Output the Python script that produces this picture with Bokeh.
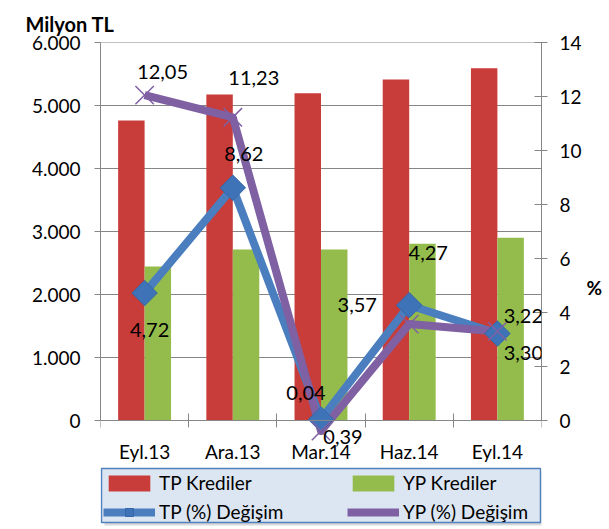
from bokeh.plotting import figure
from bokeh.models import (Range1d, LinearAxis, FixedTicker, Label, Legend, LegendItem,
                          ColumnDataSource, BoxAnnotation)
from bokeh.transform import dodge
from bokeh.embed import file_html
from bokeh.resources import INLINE

categories = ["Eyl.13", "Ara.13", "Mar.14", "Haz.14", "Eyl.14"]
tp_krediler = [4762, 5175, 5195, 5413, 5592]
yp_krediler = [2444, 2714, 2714, 2804, 2900]
tp_degisim = [4.72, 8.62, 0.04, 4.27, 3.22]
yp_degisim = [12.05, 11.23, -0.39, 3.57, 3.30]
tp_labels = ["4,72", "8,62", "0,04", "4,27", "3,22"]
yp_labels = ["12,05", "11,23", "0,39", "3,57", "3,30"]
left_ticks = [0, 1000, 2000, 3000, 4000, 5000, 6000]
left_tick_labels = ["0", "1.000", "2.000", "3.000", "4.000", "5.000", "6.000"]
right_ticks = [0, 2, 4, 6, 8, 10, 12, 14]

FONT = "Lato"
GREY = "#868686"
RED = "#C83C3A"
GREEN = "#94BC4C"
BLUE = "#4A7EBF"
PURPLE = "#7F60A3"

n = len(categories)
xc = [i + 0.5 for i in range(n)]
L_MAX = left_ticks[-1]
R_MAX = right_ticks[-1]

# ---- layout (page pixels) ----
AX_L, AX_R, AX_T, AX_B = 100, 541, 42, 420      # plot area of the axes
FR_B = 532                                       # frame extends down to hold the legend
px_x = (AX_R - AX_L) / n
px_l = (AX_B - AX_T) / L_MAX
px_r = (AX_B - AX_T) / R_MAX


def X(px):
    return (px - AX_L) / px_x


def YL(py):
    return (AX_B - py) / px_l


p = figure(frame_width=AX_R - AX_L, frame_height=FR_B - AX_T,
           x_range=Range1d(0, n), y_range=Range1d(YL(FR_B), L_MAX),
           output_backend="svg", toolbar_location=None,
           min_border_left=AX_L, min_border_right=68, min_border_top=AX_T, min_border_bottom=0)
p.extra_y_ranges = {"pct": Range1d(-(FR_B - AX_B) / px_r, R_MAX)}
p.outline_line_color = None
p.background_fill_color = "white"
p.border_fill_color = "white"

# "Milyon TL" unit title above the left axis
p.title.text = "Milyon TL"
p.title.align = "left"
p.title.offset = 25 - AX_L
p.title.text_font = FONT
p.title.text_font_style = "bold"
p.title.text_font_size = "20px"
p.title.text_color = "black"
p.title.standoff = 13

# x axis (drawn at value 0 of the left scale)
p.xaxis.fixed_location = 0
p.xaxis.bounds = (0, n)
p.xaxis.ticker = FixedTicker(ticks=xc, minor_ticks=list(range(n + 1)))
p.xaxis.major_label_overrides = {x: c for x, c in zip(xc, categories)}
p.xaxis.major_tick_line_color = None
p.xaxis.minor_tick_line_color = GREY
p.xaxis.minor_tick_in = 7
p.xaxis.minor_tick_out = 7
p.xaxis.axis_line_color = GREY
p.xaxis.major_label_standoff = 12
p.xaxis.major_label_text_font = FONT
p.xaxis.major_label_text_font_size = "19px"
p.xaxis.major_label_text_color = "black"
p.xgrid.visible = False

# left axis
p.yaxis.bounds = (0, L_MAX)
p.yaxis.ticker = FixedTicker(ticks=left_ticks, minor_ticks=[])
p.yaxis.major_label_overrides = {t: s for t, s in zip(left_ticks, left_tick_labels)}
p.yaxis.major_tick_in = 0
p.yaxis.major_tick_out = 6
p.yaxis.major_tick_line_color = GREY
p.yaxis.axis_line_color = GREY
p.yaxis.major_label_standoff = 14
p.yaxis.major_label_text_font = FONT
p.yaxis.major_label_text_font_size = "19px"
p.yaxis.major_label_text_color = "black"
p.ygrid.visible = False

# right axis
ax_r = LinearAxis(y_range_name="pct", ticker=FixedTicker(ticks=right_ticks, minor_ticks=[]),
                  axis_label="%", bounds=(0, R_MAX))
ax_r.major_tick_in = 7
ax_r.major_tick_out = 6
ax_r.major_tick_line_color = GREY
ax_r.axis_line_color = GREY
ax_r.major_label_standoff = 12
ax_r.major_label_text_font = FONT
ax_r.major_label_text_font_size = "19px"
ax_r.major_label_text_color = "black"
ax_r.axis_label_text_font = FONT
ax_r.axis_label_text_font_style = "bold"
ax_r.axis_label_text_font_size = "19px"
ax_r.axis_label_text_color = "black"
ax_r.axis_label_standoff = 2
if "axis_label_orientation" in ax_r.properties():
    ax_r.axis_label_orientation = "horizontal"
p.add_layout(ax_r, "right")

# horizontal gridlines at the left-axis ticks (1 px high filled strips)
p.rect(x=[n / 2] * len(left_ticks), y=left_ticks, width=[n] * len(left_ticks),
       height=1, height_units="screen", fill_color=GREY, line_color=None)

src = ColumnDataSource(dict(x=xc, tp=tp_krediler, yp=yp_krediler,
                            tpd=tp_degisim, ypd=yp_degisim))
r_tp = p.vbar(x=dodge("x", -0.15, range=p.x_range), top="tp", width=0.3, source=src,
              fill_color=RED, line_color=None)
r_yp = p.vbar(x=dodge("x", 0.15, range=p.x_range), top="yp", width=0.3, source=src,
              fill_color=GREEN, line_color=None)

l_tp = p.line("x", "tpd", source=src, y_range_name="pct", line_color=BLUE, line_width=8,
              line_join="round")
l_yp = p.line("x", "ypd", source=src, y_range_name="pct", line_color=PURPLE, line_width=8,
              line_join="round")
m_tp = p.scatter("x", "tpd", source=src, y_range_name="pct", marker="square", angle=0.785398,
                 size=18, fill_color="#3E73B8", line_color="#3566A8", line_width=1)
m_yp = p.scatter("x", "ypd", source=src, y_range_name="pct", marker="x", size=26,
                 line_color=PURPLE, line_width=1.5)

# data labels
tp_off = [(5, -37), (11, 34), (-15, 26), (19, 52), (26, 18)]
yp_off = [(18, 23), (21, 39), (22, -6), (-52, 19), (26, -22)]
for i in range(n):
    for vals, labs, offs in ((tp_degisim, tp_labels, tp_off), (yp_degisim, yp_labels, yp_off)):
        p.add_layout(Label(x=xc[i], y=vals[i], y_range_name="pct", text=labs[i],
                           x_offset=offs[i][0], y_offset=offs[i][1],
                           text_align="center", text_baseline="middle",
                           text_font=FONT, text_font_size="20px", text_color="black"))

# legend box (shadow + panel) and legend entries
p.add_layout(BoxAnnotation(left=X(104), right=X(543), top=YL(471), bottom=YL(525),
                           fill_color="black", fill_alpha=0.15, line_color=None))
p.add_layout(BoxAnnotation(left=X(101), right=X(540), top=YL(468), bottom=YL(522),
                           fill_color="#DCE6F2", fill_alpha=1.0,
                           line_color="#4F81BD", line_width=1.5, line_alpha=1.0))
legend = Legend(items=[
    LegendItem(label="TP Krediler", renderers=[r_tp]),
    LegendItem(label="TP (%) Değişim", renderers=[l_tp, m_tp]),
    LegendItem(label="YP Krediler", renderers=[r_yp]),
    LegendItem(label="YP (%) Değişim", renderers=[l_yp, m_yp]),
], ncols=2, location=(103 - AX_L, FR_B - 523), glyph_width=52, glyph_height=20,
    label_height=20, label_width=182, label_standoff=4, padding=5, spacing=6, margin=0,
    label_text_font=FONT, label_text_font_size="19px", label_text_color="black",
    background_fill_alpha=0, border_line_color=None)
p.add_layout(legend)

open("out.html", "w").write(file_html(p, INLINE))
